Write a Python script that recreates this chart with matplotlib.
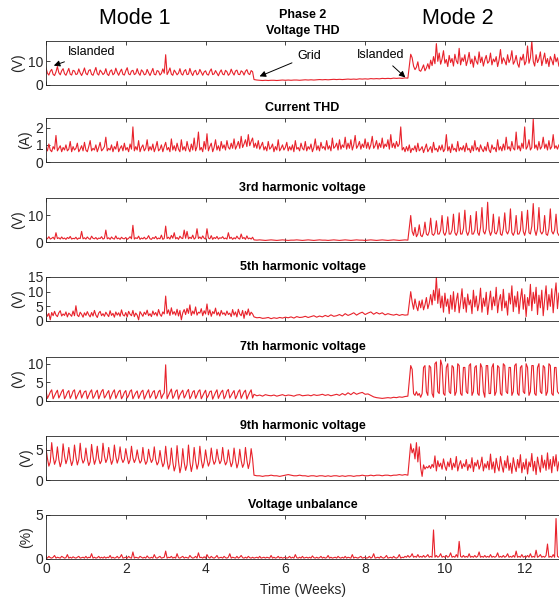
import numpy as np
import matplotlib
matplotlib.use("Agg")
import matplotlib.pyplot as plt

plt.rcParams['font.family'] = ['Liberation Sans', 'DejaVu Sans']

DENSE = 1 / 28   # weeks per sample (6 h)
HALF = 1 / 14    # weeks per sample (12 h)
M1_START, GRID_START, M2_START = 0.0, 73 / 14, 128 / 14

# ---------------- data ----------------
# Voltage THD (V)
vthd_m1 = [7.2, 5.0, 4.2, 5.8, 6.6, 4.5, 4.0, 5.5, 7.8, 5.2, 4.3, 6.0, 6.9, 4.8,
           4.1, 5.6, 7.0, 4.6, 4.2, 6.2, 5.9, 4.4, 4.7, 6.8, 5.1, 4.0, 5.4, 7.2,
           4.9, 4.3, 6.1, 6.5, 4.5, 4.1, 5.7, 7.4, 4.8, 4.2, 6.3, 5.5, 4.4, 5.0,
           6.9, 4.6, 4.0, 5.8, 6.4, 4.3, 4.9, 7.1, 5.3, 4.1, 5.6, 6.7, 4.5, 4.2,
           6.0, 7.3, 4.7, 4.3, 5.9, 6.2, 4.4, 4.8, 6.9, 5.0, 4.1, 6.4, 5.7, 4.3,
           4.6, 6.6, 5.2, 4.0, 5.5, 7.0, 4.5, 4.3, 6.1, 5.8, 4.2, 4.9, 6.8, 5.0,
           12.8, 4.4, 5.6, 7.2, 4.6, 4.1, 6.3, 5.4, 4.3, 5.0, 6.9, 4.7, 4.2, 5.9,
           6.5, 4.4, 4.6, 7.0, 5.1, 4.0, 5.7, 6.2, 4.3, 4.8, 6.6, 5.3, 4.1, 5.5,
           6.0, 4.5, 4.2, 5.8, 6.8, 4.4, 4.7, 6.1, 5.0, 3.9, 5.4, 6.4, 4.6, 4.3,
           6.2, 5.6, 4.1, 4.8, 6.7, 5.2, 4.2, 5.9, 6.3, 4.5, 4.4, 6.0, 5.5, 4.2,
           5.8, 6.5, 4.8, 4.4, 6.1, 5.6]
vthd_grid = [2.3, 2.1, 2.0, 1.9, 2.0, 1.9, 2.0, 2.0, 1.9, 2.0,
             2.1, 2.0, 2.1, 2.0, 2.1, 2.1, 2.0, 2.1, 2.2, 2.1,
             2.2, 2.1, 2.2, 2.3, 2.2, 2.3, 2.2, 2.3, 2.4, 2.3,
             2.4, 2.3, 2.4, 2.5, 2.4, 2.5, 2.4, 2.6, 2.5, 2.6,
             2.5, 2.7, 2.6, 2.7, 2.6, 2.8, 2.7, 2.8, 2.7, 2.9,
             2.8, 2.9, 2.8, 3.0, 2.9]
vthd_m2 = [13.0, 11.5, 8.0, 6.5, 7.5, 9.8, 6.2, 5.8, 7.0, 8.5, 6.0, 7.2, 9.0, 6.8,
           10.5, 8.2, 12.0, 9.0, 17.5, 10.0, 13.5, 8.8, 11.0, 14.5, 9.2, 10.8, 7.8, 12.5,
           9.5, 11.2, 8.0, 13.0, 10.2, 9.0, 15.5, 8.5, 11.5, 10.0, 12.8, 8.2, 10.5, 13.8,
           9.0, 11.0, 7.5, 12.2, 10.0, 8.8, 14.0, 9.5, 11.8, 8.0, 10.6, 12.5, 9.2, 10.0,
           13.5, 8.5, 11.0, 9.8, 12.0, 7.8, 10.5, 15.0, 9.0, 11.5, 10.2, 8.5, 12.8, 9.5,
           11.0, 14.5, 8.8, 10.0, 12.5, 9.0, 7.5, 11.8, 10.5, 13.0, 8.5, 10.0, 16.5, 9.2,
           11.5, 18.5, 10.0, 8.0, 12.8, 9.5, 11.0, 14.0, 8.2, 10.8, 13.5, 9.0, 11.2, 7.8,
           12.0, 10.5, 8.5, 13.0, 9.8, 11.5, 8.0]

# Current THD (A)
ithd = [0.85, 0.65, 1.05, 0.7, 0.6, 0.9, 0.75, 1.55, 0.65, 0.8, 0.95, 0.6, 0.85, 0.7,
        1.0, 0.65, 0.75, 1.2, 0.6, 0.9, 0.7, 0.8, 1.1, 0.6, 0.75, 0.95, 0.65, 1.15,
        0.7, 0.6, 0.9, 1.25, 0.65, 0.8, 0.7, 1.0, 0.6, 0.85, 1.15, 0.65, 0.75, 0.9,
        1.45, 0.65, 0.8, 0.7, 1.0, 0.6, 0.9, 0.75, 1.2, 0.6, 0.8, 0.95, 0.65, 1.1,
        0.7, 0.85, 0.6, 1.05, 0.75, 2.05, 0.65, 0.9, 0.7, 1.25, 0.6, 0.85, 1.0, 0.65,
        0.8, 1.3, 0.65, 0.9, 0.7, 1.05, 0.6, 0.85, 1.2, 0.65, 0.75, 1.0, 0.6, 0.9,
        1.15, 0.7, 0.85, 0.6, 1.35, 0.7, 0.95, 0.65, 1.1, 0.75, 0.6, 1.3, 0.7, 0.9,
        0.65, 1.2, 0.8, 0.6, 1.05, 0.7, 1.4, 0.65, 0.9, 1.75, 0.7, 0.85, 0.6, 1.2,
        0.75, 1.65, 0.65, 0.9, 1.1, 0.6, 0.85, 1.3, 0.7, 0.95, 0.65, 1.2, 0.8, 1.0,
        0.7, 1.25, 0.85, 0.75, 1.1, 0.8, 1.35, 0.75, 0.95, 1.2, 0.8, 1.5, 0.85, 1.05,
        1.3, 0.9, 1.6, 0.95, 1.2, 1.4, 0.85, 1.1, 0.8, 1.25, 0.75, 0.95, 1.15, 0.7,
        0.9, 0.65, 1.2, 0.75, 0.85, 1.05, 0.6, 0.9, 0.7, 1.3, 0.65, 0.8, 1.0, 0.7,
        0.85, 1.15, 0.65, 0.9, 0.7, 1.0, 0.6, 1.25, 0.75, 0.85, 0.65, 1.1, 0.8, 0.7,
        1.2, 0.65, 0.9, 0.75, 1.05, 0.6, 0.85, 1.35, 0.7, 0.95, 0.65, 1.15, 0.8, 0.9,
        0.7, 1.25, 0.75, 0.95, 0.65, 1.4, 0.8, 0.9, 1.1, 0.7, 1.3, 0.75, 1.0, 0.85,
        1.45, 0.75, 1.1, 0.8, 1.3, 0.7, 1.0, 1.55, 0.8, 0.95, 1.2, 0.75, 1.05, 0.85,
        1.35, 0.8, 1.15, 0.75, 1.0, 1.5, 0.8, 0.95, 1.25, 0.75, 1.1, 0.85, 1.4, 0.8,
        1.05, 0.9, 1.3, 0.75, 1.6, 0.85, 1.1, 0.8, 1.2, 0.9, 1.05, 2.05, 0.7, 0.85,
        0.6, 0.9, 0.65, 1.0, 0.55, 0.8, 0.7, 0.95, 0.6, 1.1, 0.65, 0.75, 0.9, 0.55,
        0.8, 1.05, 0.6, 0.75, 0.9, 0.55, 1.15, 0.7, 0.8, 0.6, 0.95, 0.7, 1.0, 0.6,
        0.75, 1.6, 0.65, 0.9, 0.55, 1.05, 0.7, 0.8, 0.6, 1.2, 0.65, 0.85, 0.7, 0.95,
        0.6, 1.1, 0.7, 0.8, 0.55, 0.95, 0.65, 1.25, 0.7, 0.85, 0.6, 1.0, 0.75, 0.6,
        0.9, 0.65, 1.15, 0.7, 0.55, 1.0, 0.75, 0.85, 0.6, 1.3, 0.7, 0.9, 0.65, 1.05,
        0.7, 1.45, 0.75, 0.9, 0.65, 1.2, 0.8, 0.7, 1.75, 0.75, 0.95, 0.65, 1.1, 0.8,
        2.05, 0.75, 0.9, 1.3, 0.7, 0.85, 2.5, 0.8, 1.0, 0.7, 1.2, 0.75, 0.9, 1.45,
        0.8, 1.05, 0.7, 1.25, 0.75, 0.9, 1.6, 0.8, 0.95, 0.75, 1.0]

# 3rd harmonic voltage (V)
h3_m1 = [1.6, 1.2, 2.0, 1.1, 1.4, 1.8, 1.0, 3.5, 1.3, 1.6, 1.1, 1.9, 1.2, 1.5,
         1.0, 1.7, 1.3, 2.1, 1.1, 1.4, 1.2, 1.8, 1.0, 1.5, 1.3, 4.0, 1.2, 1.6,
         1.1, 1.9, 1.3, 1.0, 2.2, 1.4, 1.2, 1.7, 1.0, 1.5, 1.3, 2.0, 1.1, 1.4,
         4.5, 1.2, 1.6, 1.0, 1.9, 1.3, 1.1, 2.3, 1.2, 1.5, 1.0, 1.8, 1.3, 1.2,
         1.7, 1.0, 1.4, 2.0, 1.2, 6.3, 1.1, 1.6, 1.3, 2.2, 1.0, 1.5, 1.2, 1.8,
         1.1, 1.4, 2.4, 1.2, 1.0, 1.7, 1.3, 2.1, 1.1, 1.5, 1.2, 2.6, 1.0, 1.4,
         6.0, 1.3, 1.8, 1.1, 2.5, 1.4, 3.5, 1.2, 1.7, 1.0, 2.2, 1.5, 1.3, 4.5,
         1.4, 4.0, 1.2, 1.8, 1.3, 2.6, 1.1, 1.6, 5.0, 1.3, 1.9, 1.2, 2.3, 1.4,
         1.1, 5.0, 1.5, 1.2, 2.4, 1.0, 1.7, 1.3, 2.1, 1.1, 1.6, 1.4, 2.0, 1.2,
         1.5, 1.1, 3.5, 1.3, 1.8, 1.0, 1.6, 1.2, 2.2, 1.4, 1.1, 3.0, 1.3, 1.7,
         1.0, 2.3, 1.2, 1.5, 1.1, 1.8]
h3_grid = [0.8, 0.7, 0.8, 0.7, 0.6, 0.7, 0.8, 0.7, 0.6, 0.7,
           0.8, 0.7, 0.6, 0.7, 0.7, 0.8, 0.7, 0.6, 0.7, 0.8,
           0.7, 0.6, 0.7, 0.8, 0.7, 0.7, 0.6, 0.7, 0.8, 0.7,
           0.6, 0.7, 0.8, 0.7, 0.6, 0.7, 0.8, 0.7, 0.7, 0.6,
           0.7, 0.8, 0.7, 0.6, 0.7, 0.8, 0.7, 0.6, 0.7, 0.8,
           0.7, 0.6, 0.7, 0.8, 0.7]
h3_m2 = [10.0, 4.0, 2.5, 5.5, 2.0, 3.0, 6.5, 2.5, 2.0, 3.5, 7.5, 3.0,
         2.5, 4.0, 9.0, 3.0, 2.5, 3.5, 8.0, 3.0, 3.0, 4.5, 10.0, 3.5,
         2.5, 4.0, 9.5, 3.0, 3.0, 4.5, 10.5, 3.5, 2.5, 4.0, 11.0, 3.0,
         3.0, 5.0, 12.0, 4.0, 2.5, 4.0, 10.0, 3.0, 3.0, 4.5, 11.5, 3.5,
         2.5, 5.5, 13.0, 4.0, 3.0, 5.0, 15.0, 4.5, 2.5, 4.0, 10.5, 3.5,
         3.0, 4.5, 9.5, 3.0, 2.5, 5.0, 11.0, 4.0, 3.0, 4.5, 12.5, 3.5,
         2.5, 4.0, 10.0, 3.0, 3.0, 4.5, 11.5, 4.0, 2.5, 5.0, 12.0, 3.5,
         3.0, 6.0, 14.5, 4.5, 2.5, 5.0, 13.0, 4.0, 3.0, 4.0, 10.0, 3.0,
         2.5, 5.0, 12.5, 4.0, 3.0, 4.5, 10.5, 3.5, 2.5]

# 5th harmonic voltage (V)
h5_m1 = [3.0, 1.6, 2.6, 0.4, 2.9, 1.8, 3.3, 2.0, 1.5, 2.8, 3.5, 1.7, 2.4, 1.9,
         3.1, 1.4, 2.7, 2.2, 1.6, 3.4, 1.8, 5.2, 2.0, 1.5, 3.0, 2.3, 1.3, 2.8,
         1.9, 3.2, 2.1, 1.4, 2.9, 1.7, 3.6, 2.0, 1.2, 2.7, 3.3, 1.8, 2.5, 1.6,
         3.0, 2.2, 1.5, 3.5, 1.9, 2.6, 1.3, 3.1, 2.0, 2.8, 1.6, 3.8, 2.1, 1.7,
         2.9, 1.4, 3.3, 2.3, 1.8, 3.6, 1.5, 2.7, 2.0, 0.4, 3.2, 2.4, 1.6, 3.0,
         2.2, 3.7, 1.8, 2.5, 1.5, 3.4, 2.1, 2.9, 1.7, 3.9, 2.3, 1.6, 3.1, 2.4,
         8.5, 2.5, 3.8, 1.9, 4.5, 2.3, 3.2, 2.0, 4.0, 1.7, 3.6, 0.4, 2.8, 3.9,
         2.2, 4.3, 2.6, 5.5, 1.9, 3.4, 2.4, 4.8, 2.0, 3.0, 2.7, 4.2, 1.8, 3.5,
         2.4, 5.8, 2.1, 3.8, 1.6, 3.2, 2.5, 4.4, 2.0, 3.0, 1.7, 3.6, 2.3, 2.8,
         1.9, 3.4, 2.2, 2.7, 1.5, 3.9, 2.0, 3.1, 1.4, 4.0, 2.4, 1.8, 3.6, 0.9,
         3.3, 2.1, 4.1, 1.9, 3.0, 2.4]
h5_grid = [1.4, 1.1, 1.2, 0.9, 1.0, 1.2, 0.8, 1.1, 0.9, 1.2,
           1.0, 1.3, 1.1, 1.4, 1.0, 1.5, 1.2, 1.3, 1.6, 1.2,
           1.5, 1.8, 1.3, 1.7, 1.4, 1.9, 1.5, 2.1, 1.6, 1.8,
           2.2, 1.7, 2.5, 1.9, 2.3, 2.8, 2.0, 2.6, 3.0, 2.2,
           2.7, 3.1, 2.3, 2.9, 2.4, 2.8, 2.1, 2.5, 2.2, 2.0,
           2.3, 1.9, 2.2, 2.0, 2.1]
h5_m2 = [10.0, 6.5, 4.0, 7.5, 5.0, 3.5, 6.8, 4.5, 7.2, 3.8, 5.5, 8.0, 4.2, 6.0,
         9.0, 5.5, 10.5, 7.0, 15.0, 6.0, 11.0, 4.5, 8.5, 3.0, 9.5, 5.0, 7.5, 2.5,
         8.8, 4.0, 10.0, 3.2, 7.0, 9.5, 2.8, 6.5, 11.0, 4.2, 8.0, 3.0, 9.2, 5.5,
         7.2, 2.5, 10.5, 4.8, 8.5, 3.5, 6.0, 11.2, 3.0, 7.8, 5.0, 9.8, 2.2, 6.5,
         10.2, 3.8, 8.2, 5.2, 11.5, 2.8, 7.0, 9.0, 3.5, 10.8, 4.5, 6.8, 2.0, 9.5,
         5.8, 12.0, 3.2, 8.5, 4.8, 10.0, 2.5, 7.5, 11.0, 4.0, 9.0, 1.5, 8.0, 5.2,
         12.5, 3.5, 9.8, 6.0, 11.5, 2.2, 8.8, 4.5, 10.5, 1.8, 7.2, 12.0, 3.8, 9.0,
         5.0, 11.0, 2.8, 8.5, 13.0, 4.2, 9.5]

# 7th harmonic voltage (V)
h7_m1 = [2.8, 0.7, 1.5, 2.4, 3.0, 0.6, 1.4, 2.2, 2.9, 0.8, 1.6, 2.5,
         3.1, 0.6, 1.3, 2.3, 2.8, 0.7, 1.5, 2.6, 3.0, 0.5, 1.4, 2.2,
         2.9, 0.8, 1.7, 2.5, 2.7, 0.6, 1.5, 2.4, 3.0, 0.7, 1.3, 2.3,
         2.9, 0.6, 1.6, 2.6, 3.1, 0.8, 1.4, 2.2, 2.8, 0.5, 1.5, 2.4,
         3.0, 0.7, 1.6, 2.5, 2.9, 0.6, 1.3, 2.3, 2.8, 0.8, 1.5, 2.6,
         3.0, 0.6, 1.4, 2.2, 2.7, 0.7, 1.6, 2.5, 2.9, 0.5, 1.4, 2.3,
         3.0, 0.8, 1.5, 2.4, 2.8, 0.6, 1.3, 2.5, 2.9, 0.7, 1.6, 2.2,
         9.7, 0.6, 1.5, 2.4, 3.2, 0.7, 1.4, 2.6, 3.0, 0.5, 1.6, 2.3,
         2.9, 0.8, 1.5, 2.5, 3.1, 0.6, 1.3, 2.4, 2.8, 0.7, 1.6, 2.6,
         3.0, 0.6, 1.4, 2.2, 2.9, 0.8, 1.5, 2.5, 2.7, 0.5, 1.4, 2.3,
         3.0, 0.7, 1.6, 2.4, 2.9, 0.6, 1.3, 2.6, 3.1, 0.8, 1.5, 2.2,
         2.8, 0.6, 1.4, 2.5, 3.0, 0.7, 1.6, 2.4, 2.9, 0.5, 1.5, 2.3,
         3.0, 0.8]
h7_grid = [1.8, 1.4, 1.6, 1.3, 1.7, 1.5, 1.4, 1.6, 1.3, 1.5,
           1.7, 1.4, 1.6, 1.5, 1.3, 1.6, 1.7, 1.4, 1.5, 1.6,
           1.4, 1.7, 1.5, 1.6, 1.8, 1.5, 1.7, 1.4, 1.6, 1.8,
           1.5, 2.0, 1.6, 2.2, 1.7, 2.3, 1.8, 2.1, 2.3, 1.8,
           1.9, 1.5, 1.1, 0.9, 0.8, 0.7, 0.8, 0.9, 0.8, 1.0,
           0.9, 1.1, 1.0, 1.2, 1.3]
h7_m2 = [9.5, 8.5, 2.0, 1.5, 2.5, 1.5, 2.0, 1.0, 2.0, 9.0, 9.5, 2.5,
         1.5, 9.5, 9.0, 2.0, 1.0, 10.0, 10.5, 2.5, 2.0, 11.0, 9.5, 2.0,
         1.5, 9.0, 10.0, 2.5, 2.0, 9.5, 9.0, 1.5, 2.5, 10.0, 9.5, 2.0,
         1.5, 9.0, 9.0, 2.5, 2.0, 9.5, 10.0, 1.5, 2.5, 9.0, 9.5, 2.0,
         1.5, 10.0, 9.0, 2.5, 1.0, 9.5, 9.5, 2.0, 2.0, 9.0, 10.0, 1.5,
         2.5, 9.5, 9.0, 2.0, 1.5, 10.0, 9.5, 2.5, 2.0, 9.0, 9.0, 1.5,
         2.5, 9.5, 10.0, 2.0, 1.5, 9.0, 9.5, 2.5, 2.0, 10.0, 9.0, 1.5,
         2.5, 9.5, 9.5, 2.0, 1.5, 9.0, 10.0, 2.5, 2.0, 9.5, 9.0, 1.5,
         2.5, 10.0, 9.5, 2.0, 1.5, 9.0, 9.0, 2.5, 2.0]

# 9th harmonic voltage (V)
h9_m1 = [5.2, 3.6, 2.3, 3.0, 6.2, 3.9, 2.6, 3.3, 5.5, 3.4, 2.2, 3.1,
         6.0, 4.0, 2.7, 3.5, 5.4, 3.5, 2.4, 3.2, 5.8, 3.8, 2.5, 3.4,
         6.1, 3.7, 2.8, 3.3, 5.3, 3.5, 2.4, 3.0, 5.9, 3.9, 2.6, 3.4,
         5.6, 3.6, 2.7, 3.2, 6.1, 4.0, 2.9, 3.5, 5.4, 3.7, 2.6, 3.3,
         5.8, 3.9, 2.8, 3.6, 5.5, 3.6, 2.9, 3.4, 5.2, 3.8, 2.7, 3.3,
         5.6, 3.7, 2.9, 3.5, 5.0, 3.6, 2.8, 3.2, 5.4, 3.5, 2.6, 3.1,
         5.1, 3.7, 2.9, 3.4, 5.5, 3.4, 2.5, 3.0, 4.9, 3.3, 2.2, 2.8,
         5.6, 3.2, 1.8, 2.6, 5.3, 3.0, 1.5, 2.4, 5.7, 3.1, 1.2, 2.3,
         5.2, 2.9, 1.6, 2.5, 5.8, 3.0, 1.4, 2.6, 5.4, 3.2, 1.8, 2.7,
         5.6, 3.3, 2.0, 2.9, 5.0, 3.4, 2.3, 3.0, 5.3, 3.5, 2.6, 3.1,
         5.1, 3.6, 2.7, 3.2, 5.4, 3.4, 2.5, 3.0, 5.0, 3.3, 2.2, 2.9,
         5.3, 3.4, 2.0, 2.8, 5.1, 3.2, 2.1, 2.7, 5.4, 3.3, 1.9, 2.9,
         5.2, 3.5]
h9_grid = [0.8, 0.7, 0.7, 0.6, 0.7, 0.7, 0.8, 0.7, 0.7, 0.6,
           0.7, 0.8, 0.9, 0.8, 0.7, 0.7, 0.8, 0.7, 0.7, 0.6,
           0.7, 0.7, 0.6, 0.7, 0.7, 0.6, 0.7, 0.6, 0.7, 0.7,
           0.6, 0.7, 0.6, 0.7, 0.7, 0.6, 0.7, 0.7, 0.8, 0.7,
           0.7, 0.8, 0.7, 0.8, 0.8, 0.7, 0.8, 0.8, 0.7, 0.8,
           0.8, 0.9, 0.8, 0.9, 0.8]
h9_m2 = [6.0, 4.5, 5.2, 3.5, 6.2, 3.0, 5.5, 2.0, 0.6, 2.5, 1.8, 2.2, 2.0, 2.4,
         1.9, 2.6, 2.1, 4.0, 1.5, 3.2, 2.2, 2.8, 1.8, 3.5, 2.3, 1.6, 3.0, 2.2,
         3.6, 1.7, 2.8, 2.1, 3.9, 1.5, 2.5, 3.2, 1.9, 2.7, 2.2, 3.4, 1.6, 2.6,
         2.0, 3.7, 1.4, 2.9, 2.3, 3.3, 1.8, 2.5, 3.8, 1.5, 2.7, 2.0, 3.1, 1.7,
         4.3, 1.8, 3.0, 1.2, 3.6, 2.2, 1.5, 3.9, 2.4, 1.3, 3.2, 2.0, 4.0, 1.6,
         2.8, 1.1, 3.7, 2.3, 1.4, 3.4, 2.0, 4.2, 1.2, 2.9, 1.8, 3.5, 1.0, 3.0,
         2.2, 4.4, 1.5, 3.1, 0.9, 3.8, 2.4, 1.3, 4.1, 2.0, 3.3, 1.6, 4.5, 1.8,
         3.4, 1.2, 3.9, 2.3, 4.2, 1.5, 3.0]

# Voltage unbalance (%)
unbal = [0.2, 0.1, 0.3, 0.15, 0.1, 0.2, 0.4, 0.1, 0.2, 0.15, 0.1, 0.3, 0.2, 0.1,
         0.15, 0.5, 0.1, 0.2, 0.1, 0.25, 0.15, 0.1, 0.2, 0.3, 0.1, 0.15, 0.2, 0.1,
         0.3, 0.1, 0.2, 0.15, 0.6, 0.1, 0.2, 0.1, 0.15, 0.3, 0.1, 0.2, 0.1, 0.25,
         0.1, 0.2, 0.15, 0.4, 0.1, 0.2, 0.1, 0.15, 0.3, 0.1, 0.2, 0.5, 0.1, 0.15,
         0.2, 0.1, 0.3, 0.15, 0.1, 0.8, 0.1, 0.2, 0.15, 0.1, 0.3, 0.2, 0.1, 0.2,
         0.1, 0.35, 0.15, 0.1, 0.2, 0.1, 0.5, 0.15, 0.1, 0.2, 0.3, 0.1, 0.15, 0.2,
         0.9, 0.1, 0.2, 0.15, 0.3, 0.1, 0.2, 0.1, 0.6, 0.15, 0.1, 0.2, 0.3, 0.1,
         0.2, 0.15, 0.1, 0.4, 0.2, 0.1, 0.15, 0.3, 0.1, 0.7, 0.15, 0.2, 0.1, 0.25,
         0.1, 0.5, 0.2, 0.1, 0.3, 0.15, 0.1, 0.2, 0.4, 0.1, 0.15, 0.2, 0.1, 0.3,
         0.15, 0.1, 0.2, 0.6, 0.1, 0.2, 0.15, 0.1, 0.3, 0.1, 0.2, 0.4, 0.15, 0.1,
         0.2, 0.1, 0.3, 0.15, 0.1, 0.2, 0.1, 0.15, 0.2, 0.1, 0.3, 0.1, 0.15, 0.2,
         0.1, 0.2, 0.15, 0.1, 0.4, 0.1, 0.2, 0.1, 0.15, 0.3, 0.1, 0.2, 0.1, 0.15,
         0.2, 0.1, 0.15, 0.3, 0.1, 0.2, 0.1, 0.5, 0.15, 0.1, 0.2, 0.1, 0.3, 0.1,
         0.15, 0.2, 0.1, 0.2, 0.1, 0.35, 0.15, 0.1, 0.2, 0.1, 0.15, 0.3, 0.1, 0.2,
         0.1, 0.15, 0.4, 0.1, 0.2, 0.1, 0.15, 0.2, 0.1, 0.3, 0.15, 0.1, 0.2, 0.1,
         0.3, 0.1, 0.2, 0.15, 0.1, 0.5, 0.1, 0.2, 0.15, 0.1, 0.2, 0.3, 0.1, 0.15,
         0.2, 0.1, 0.15, 0.3, 0.1, 0.2, 0.6, 0.1, 0.15, 0.2, 0.1, 0.3, 0.15, 0.1,
         0.2, 0.4, 0.1, 0.15, 0.2, 0.1, 0.3, 0.15, 0.1, 0.2, 0.5, 0.1, 0.2, 0.15,
         0.3, 0.2, 0.4, 0.2, 0.3, 0.6, 0.2, 0.3, 0.2, 0.5, 0.2, 0.3, 0.2, 0.4,
         0.2, 0.3, 0.5, 0.2, 0.3, 0.2, 3.3, 0.2, 0.4, 0.2, 0.3, 0.6, 0.2, 0.3,
         0.2, 0.4, 0.2, 0.3, 0.7, 0.2, 0.3, 0.2, 0.5, 0.2, 2.0, 0.3, 0.2, 0.4,
         0.2, 0.3, 0.2, 0.6, 0.2, 0.3, 0.2, 0.4, 0.2, 0.3, 0.8, 0.2, 0.3, 0.2,
         0.4, 0.2, 0.3, 0.2, 0.5, 0.2, 0.3, 0.2, 0.3, 0.7, 0.2, 0.3, 0.2, 0.4,
         0.2, 0.3, 0.6, 0.2, 0.3, 0.2, 0.4, 0.2, 0.9, 0.2, 0.3, 0.2, 0.5, 0.2,
         0.3, 0.2, 0.4, 0.2, 0.6, 0.2, 0.3, 0.2, 1.0, 0.2, 0.3, 0.5, 0.2, 0.3,
         0.2, 0.4, 1.7, 0.2, 0.3, 0.2, 0.5, 0.2, 4.6, 0.3, 0.2]

titles = ["Phase 2\nVoltage THD", "Current THD", "3rd harmonic voltage",
          "5th harmonic voltage", "7th harmonic voltage", "9th harmonic voltage",
          "Voltage unbalance"]
ylabels = ["(V)", "(A)", "(V)", "(V)", "(V)", "(V)", "(%)"]
yticks = [[0, 10], [0, 1, 2], [0, 10], [0, 5, 10, 15], [0, 5, 10], [0, 5], [0, 5]]
ylims = [18.6, 2.57, 16.6, 15, 11.8, 7.3, 5]
xticks = [0, 2, 4, 6, 8, 10, 12]
XMAX = 12.86


def segs(*parts):
    ts, vs = [], []
    for t0, step, vals in parts:
        ts.append(t0 + np.arange(len(vals)) * step)
        vs.append(np.asarray(vals, dtype=float))
    return np.concatenate(ts), np.concatenate(vs)


def three(m1, grid, m2):
    return segs((M1_START, DENSE, m1), (GRID_START, HALF, grid), (M2_START, DENSE, m2))


series = [three(vthd_m1, vthd_grid, vthd_m2),
          segs((0.0, DENSE, ithd)),
          three(h3_m1, h3_grid, h3_m2),
          three(h5_m1, h5_grid, h5_m2),
          three(h7_m1, h7_grid, h7_m2),
          three(h9_m1, h9_grid, h9_m2),
          segs((0.0, DENSE, unbal))]

# ---------------- figure ----------------
W, H = 559, 602
fig = plt.figure(figsize=(W / 100, H / 100), dpi=100)
red = '#e8222b'
dark = '#262626'
left_px, right_px = 46, 559
tops_px = [41, 118, 198, 277, 357, 436, 515]
h_px = 44

axes = []
for k, (t, y) in enumerate(series):
    top = tops_px[k]
    ax = fig.add_axes([left_px / W, 1 - (top + h_px) / H,
                       (right_px - left_px) / W, h_px / H])
    ax.plot(t, y, color=red, lw=0.8)
    ax.set_xlim(0, XMAX)
    ax.set_ylim(0, ylims[k])
    ax.set_yticks(yticks[k])
    ax.set_xticks(xticks)
    ax.tick_params(direction='in', top=True, right=False, length=3,
                   width=0.6, colors=dark, labelsize=10, pad=2)
    for s in ax.spines.values():
        s.set_color(dark)
        s.set_linewidth(0.6)
    ax.spines['right'].set_visible(False)
    ax.set_ylabel(ylabels[k], fontsize=10, color=dark, labelpad=2)
    ax.set_title(titles[k], fontsize=9, fontweight='bold', color='black',
                 pad=5, linespacing=1.45)
    if k < len(series) - 1:
        ax.set_xticklabels([])
    axes.append(ax)

axes[-1].set_xlabel("Time (Weeks)", fontsize=10, color=dark, labelpad=5)

fig.text(135 / W, 1 - 18 / H, "Mode 1", fontsize=15.5, ha='center', va='center')
fig.text(458 / W, 1 - 18 / H, "Mode 2", fontsize=15.5, ha='center', va='center')

a0 = axes[0]
arrow = dict(arrowstyle='-|>', color='black', lw=0.7, mutation_scale=9)
a0.annotate("Islanded", xy=(0.13, 7.8), xytext=(0.55, 13.9), fontsize=9,
            ha='left', va='center', arrowprops=arrow)
a0.annotate("Grid", xy=(5.29, 3.2), xytext=(6.3, 12.4), fontsize=9,
            ha='left', va='center', arrowprops=arrow)
a0.annotate("Islanded", xy=(9.06, 2.4), xytext=(8.4, 12.6), fontsize=9,
            ha='center', va='center', arrowprops=arrow)

fig.savefig("out.png", dpi=100)
